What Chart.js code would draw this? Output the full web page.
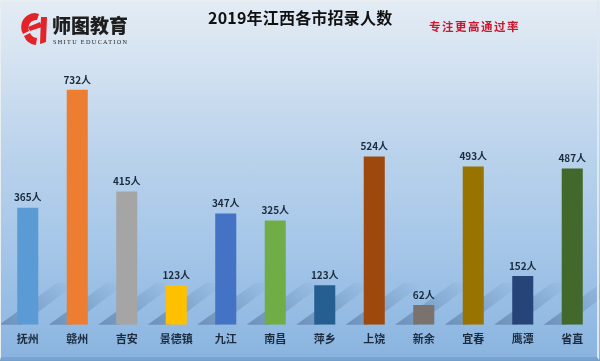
<!DOCTYPE html>
<html>
<head>
<meta charset="utf-8">
<script src="https://cdn.jsdelivr.net/npm/chart.js@4"></script>
<style>
  html, body { margin: 0; padding: 0; }
  body { width: 600px; height: 361px; overflow: hidden; position: relative;
    font-family: "Noto Sans CJK SC", "Noto Sans", sans-serif;
    background: linear-gradient(to bottom, #e4ecf4 0%, #d3e2f1 18%, #bcd4ec 40%, #a8c8e9 65%, #92bae3 90%, #8ab4df 99%, #6e9ccc 100%); }
  #frame { position: absolute; left: 0; top: 0; width: 596px; height: 356px; border: 1px solid #e9eef3; border-right: 2px solid #dfe8f1; border-bottom: 3px solid #7aa4d0; pointer-events: none; }
  #wrap { position: absolute; left: 0; top: 0; width: 600px; height: 361px; }
  #title { position: absolute; left: 208px; top: 5px; font-size: 16px; font-weight: bold; color: #111; white-space: nowrap; letter-spacing: 0.2px; }
  #slogan { position: absolute; left: 429px; top: 18px; font-size: 11.5px; font-weight: bold; color: #d0142c; white-space: nowrap; letter-spacing: 1.5px; }
  #brand { position: absolute; left: 52px; top: 11px; font-size: 19px; font-weight: 900; color: #1e1e1e; white-space: nowrap; letter-spacing: 0px; }
  #brandEn { position: absolute; left: 53px; top: 38px; font-size: 6.2px; font-family: "Liberation Serif", serif; color: #222; white-space: nowrap; letter-spacing: 1.35px; }
  #logo { position: absolute; left: 20px; top: 12px; }
</style>
</head>
<body>
<div id="wrap"><canvas id="c" width="600" height="361"></canvas></div>
<svg id="logo" width="30" height="34" viewBox="0 0 30 34">
  <path d="M15 1 A14 14 0 0 0 3 22 L9 19 A8 8 0 0 1 17 8 L19 2 Z" fill="#e3232a"/>
  <path d="M4 24 A14 14 0 0 0 16 33 L17 26 A8 8 0 0 1 10 21 Z" fill="#e3232a"/>
  <path d="M8 15 L20 10 L22 15 L10 19 Z" fill="#e3232a"/>
  <path d="M21 5 L27 5 L26 30 L20 32 Z" fill="#e3232a"/>
</svg>
<div id="brand">师图教育</div>
<div id="brandEn">SHITU EDUCATION</div>
<div id="title">2019年江西各市招录人数</div>
<div id="slogan">专注更高通过率</div>
<div id="frame"></div>
<script>
const categories = ["抚州", "赣州", "吉安", "景德镇", "九江", "南昌", "萍乡", "上饶", "新余", "宜春", "鹰潭", "省直"];
const recruits = [365, 732, 415, 123, 347, 325, 123, 524, 62, 493, 152, 487];
const barColors = ["#5b9bd5", "#ed7d31", "#a5a5a5", "#ffc000", "#4472c4", "#70ad47", "#255e91", "#9e480e", "#7a736d", "#997300", "#264478", "#43682b"];
const valueSuffix = "人";

const shadowPlugin = {
  id: "barShadows",
  beforeDatasetsDraw(chart) {
    const ctx = chart.ctx;
    const meta = chart.getDatasetMeta(0);
    ctx.save();
    meta.data.forEach((bar) => {
      const base = bar.base;
      const w = bar.width;
      const x0 = bar.x - w / 2 - 18;
      const g = ctx.createLinearGradient(x0, base, x0 + 70, base - 45);
      g.addColorStop(0, "rgba(40,70,110,0.36)");
      g.addColorStop(1, "rgba(40,70,110,0.0)");
      ctx.fillStyle = g;
      ctx.beginPath();
      ctx.moveTo(x0, base);
      ctx.lineTo(x0 + 22, base);
      ctx.lineTo(x0 + 78, base - 42);
      ctx.lineTo(x0 + 58, base - 42);
      ctx.closePath();
      ctx.fill();
    });
    ctx.restore();
  }
};

const labelPlugin = {
  id: "valueLabels",
  afterDatasetsDraw(chart) {
    const ctx = chart.ctx;
    const meta = chart.getDatasetMeta(0);
    ctx.save();
    ctx.font = "bold 10px 'Noto Sans CJK SC', sans-serif";
    ctx.fillStyle = "#1b2b3c";
    ctx.textAlign = "center";
    ctx.textBaseline = "bottom";
    meta.data.forEach((bar, i) => {
      ctx.fillText(recruits[i] + valueSuffix, bar.x, bar.y - 5);
    });
    ctx.restore();
  }
};

new Chart(document.getElementById("c"), {
  type: "bar",
  data: {
    labels: categories,
    datasets: [{
      data: recruits,
      backgroundColor: barColors,
      borderWidth: 0,
      categoryPercentage: 0.85,
      barPercentage: 0.5
    }]
  },
  options: {
    responsive: false,
    animation: false,
    devicePixelRatio: 1,
    layout: { padding: { top: 68, bottom: 9, left: 3, right: 3 } },
    plugins: { legend: { display: false }, title: { display: false }, tooltip: { enabled: false } },
    scales: {
      y: { display: false, min: 0, max: 800 },
      x: {
        grid: { display: false, drawTicks: false },
        border: { display: false },
        ticks: { padding: 7, color: "#1c2c3e", font: { family: "'Noto Sans CJK SC', sans-serif", size: 11, weight: "bold" } }
      }
    }
  },
  plugins: [shadowPlugin, labelPlugin]
});
</script>
</body>
</html>
